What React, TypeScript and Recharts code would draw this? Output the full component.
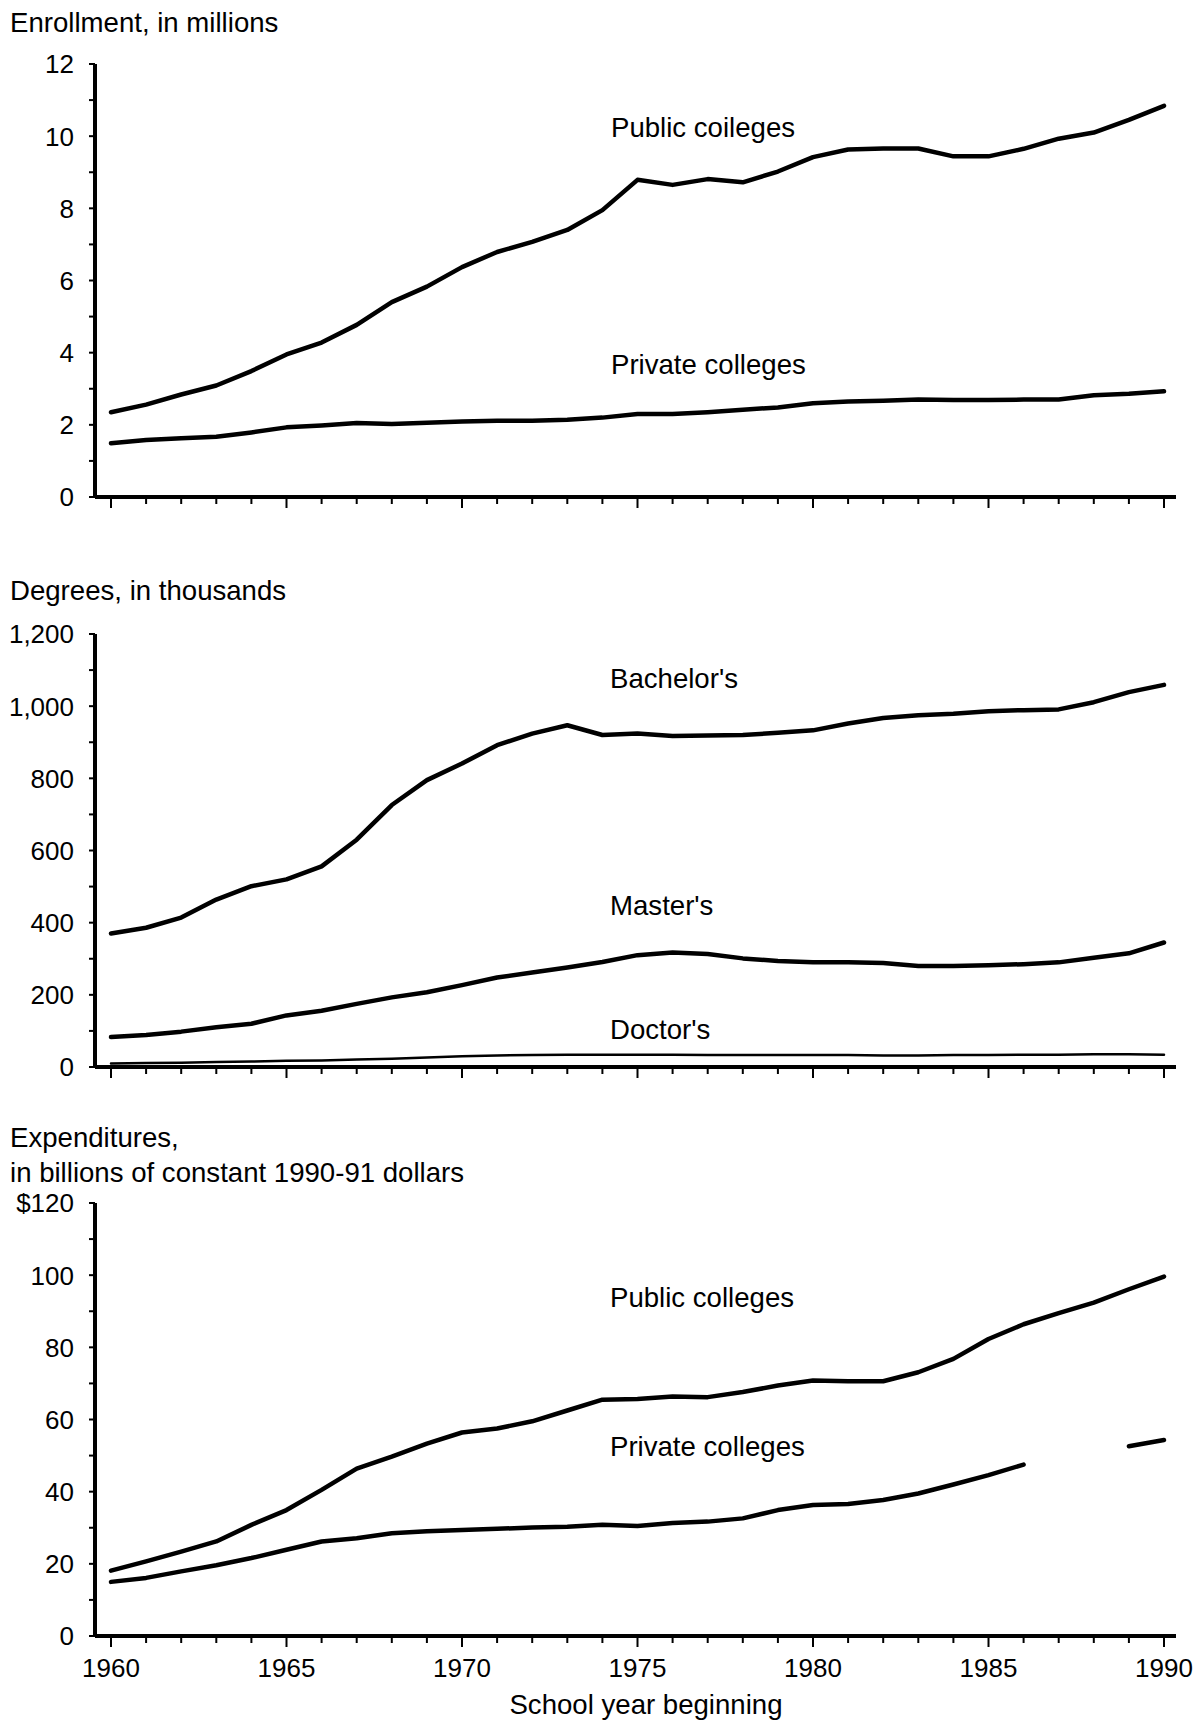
import { Line, LineChart, XAxis, YAxis } from "recharts";

const FONT = '"Liberation Sans", Arial, Helvetica, sans-serif';

const years = [
  1960, 1961, 1962, 1963, 1964, 1965, 1966, 1967, 1968, 1969, 1970, 1971, 1972, 1973, 1974, 1975,
  1976, 1977, 1978, 1979, 1980, 1981, 1982, 1983, 1984, 1985, 1986, 1987, 1988, 1989, 1990,
];

// Enrollment, millions
const enrollPublic = [
  2.35, 2.56, 2.84, 3.09, 3.49, 3.95, 4.28, 4.77, 5.4, 5.83, 6.37, 6.79, 7.07, 7.4, 7.95, 8.79,
  8.65, 8.81, 8.72, 9.02, 9.42, 9.63, 9.66, 9.66, 9.44, 9.44, 9.65, 9.93, 10.1, 10.45, 10.84,
];
const enrollPrivate = [
  1.49, 1.58, 1.63, 1.67, 1.79, 1.93, 1.98, 2.05, 2.02, 2.06, 2.09, 2.11, 2.11, 2.14, 2.2, 2.3,
  2.3, 2.35, 2.42, 2.48, 2.6, 2.65, 2.67, 2.7, 2.69, 2.69, 2.7, 2.7, 2.82, 2.86, 2.93,
];

// Degrees, thousands
const bachelors = [
  370, 386, 414, 464, 501, 520, 556, 630, 726, 795, 841, 892, 924, 947, 920, 924, 917, 919, 920,
  926, 933, 952, 967, 975, 979, 986, 989, 991, 1011, 1039, 1059,
];
const masters = [
  83, 89, 98, 110, 120, 143, 156, 175, 193, 207, 227, 248, 262, 276, 291, 310, 317, 313, 301, 294,
  290, 290, 288, 280, 280, 282, 285, 290, 303, 315, 345,
];
const doctors = [
  10, 11, 12, 14, 15, 17, 18, 21, 23, 26, 30, 32, 33, 34, 34, 34, 34, 33, 33, 33, 33, 33, 32, 32,
  33, 33, 34, 34, 35, 35, 34,
];

// Expenditures, billions of constant 1990-91 dollars
const spendPublic = [
  18.1, 20.7, 23.4, 26.2, 30.8, 34.9, 40.5, 46.4, 49.7, 53.3, 56.4, 57.5, 59.5, 62.5, 65.5, 65.7,
  66.4, 66.2, 67.6, 69.4, 70.8, 70.6, 70.6, 73.1, 76.8, 82.3, 86.4, 89.5, 92.4, 96.1, 99.6,
];
const spendPrivate = [
  15.0, 16.1, 17.9, 19.6, 21.6, 23.9, 26.2, 27.1, 28.5, 29.0, 29.4, 29.7, 30.1, 30.3, 30.8, 30.5,
  31.3, 31.7, 32.6, 34.9, 36.3, 36.6, 37.7, 39.5, 42.0, 44.6, 47.5, null, null, 52.6, 54.3,
];

const enrollTicks = [0, 1, 2, 3, 4, 5, 6, 7, 8, 9, 10, 11, 12];
const enrollLabels = ["0", "2", "4", "6", "8", "10", "12"];
const degreeTicks = [0, 100, 200, 300, 400, 500, 600, 700, 800, 900, 1000, 1100, 1200];
const degreeLabels = ["0", "200", "400", "600", "800", "1,000", "1,200"];
const spendTicks = [0, 10, 20, 30, 40, 50, 60, 70, 80, 90, 100, 110, 120];
const spendLabels = ["0", "20", "40", "60", "80", "100", "$120"];

const enrollData = years.map((year, i) => ({ year, pub: enrollPublic[i], priv: enrollPrivate[i] }));
const degreeData = years.map((year, i) => ({
  year,
  bach: bachelors[i],
  mast: masters[i],
  doct: doctors[i],
}));
const spendData = years.map((year, i) => ({ year, pub: spendPublic[i], priv: spendPrivate[i] }));

const PLOT_H = 433;
const TOP_PAD = 20;

function XTick(props: any) {
  const { x, y, payload, showLabels } = props;
  const v = payload.value;
  const major = v % 5 === 0;
  return (
    <g>
      <line x1={x} x2={x} y1={y} y2={y + (major ? 11 : 7)} stroke="#000" strokeWidth={2} />
      {showLabels && major && (
        <text x={x} y={y + 41} textAnchor="middle" fontSize={26} fontFamily={FONT} fill="#000">
          {v}
        </text>
      )}
    </g>
  );
}

function YTick(props: any) {
  const { x, y, payload, ticks, labels } = props;
  const idx = ticks.indexOf(payload.value);
  const label = idx % 2 === 0 ? labels[idx / 2] : null;
  return (
    <g>
      <line x1={x - 6} x2={x} y1={y} y2={y} stroke="#000" strokeWidth={2} />
      {label && (
        <text x={x - 21} y={y} dy="0.36em" textAnchor="end" fontSize={26} fontFamily={FONT} fill="#000">
          {label}
        </text>
      )}
    </g>
  );
}

type PanelProps = {
  top: number;
  data: any[];
  ticks: number[];
  labels: string[];
  keys: { key: string; width: number }[];
  showXLabels?: boolean;
};

function Panel({ top, data, ticks, labels, keys, showXLabels }: PanelProps) {
  const xH = showXLabels ? 60 : 30;
  return (
    <div style={{ position: "absolute", left: 0, top: top - TOP_PAD }}>
      <LineChart
        width={1196}
        height={TOP_PAD + PLOT_H + xH}
        data={data}
        margin={{ top: TOP_PAD, right: 20, bottom: 0, left: 35 }}
      >
        <XAxis
          dataKey="year"
          type="number"
          domain={[1960, 1990]}
          ticks={years}
          interval={0}
          height={xH}
          padding={{ left: 16, right: 12 }}
          axisLine={{ stroke: "#000", strokeWidth: 4 }}
          tickLine={false}
          tickSize={0}
          tickMargin={0}
          tick={(p: any) => <XTick {...p} showLabels={showXLabels} />}
        />
        <YAxis
          type="number"
          width={60}
          domain={[ticks[0], ticks[ticks.length - 1]]}
          ticks={ticks}
          interval={0}
          axisLine={{ stroke: "#000", strokeWidth: 4 }}
          tickLine={false}
          tickSize={0}
          tickMargin={0}
          tick={(p: any) => <YTick {...p} ticks={ticks} labels={labels} />}
        />
        {keys.map((k) => (
          <Line
            key={k.key}
            type="linear"
            dataKey={k.key}
            stroke="#000"
            strokeWidth={k.width}
            strokeLinejoin="round"
            strokeLinecap="round"
            dot={false}
            isAnimationActive={false}
          />
        ))}
      </LineChart>
    </div>
  );
}

const textStyle = { fontFamily: FONT, fontSize: 27.6, fill: "#000" };

export default function App() {
  return (
    <div
      style={{
        position: "absolute",
        left: 0,
        top: 0,
        width: 1196,
        height: 1726,
        background: "#fff",
        overflow: "hidden",
      }}
    >
      <Panel
        top={64}
        data={enrollData}
        ticks={enrollTicks}
        labels={enrollLabels}
        keys={[
          { key: "pub", width: 4.5 },
          { key: "priv", width: 4.5 },
        ]}
      />
      <Panel
        top={634}
        data={degreeData}
        ticks={degreeTicks}
        labels={degreeLabels}
        keys={[
          { key: "bach", width: 4.5 },
          { key: "mast", width: 4.5 },
          { key: "doct", width: 2.5 },
        ]}
      />
      <Panel
        top={1203}
        data={spendData}
        ticks={spendTicks}
        labels={spendLabels}
        keys={[
          { key: "pub", width: 4.5 },
          { key: "priv", width: 4.5 },
        ]}
        showXLabels
      />
      <svg
        width={1196}
        height={1726}
        style={{ position: "absolute", left: 0, top: 0, pointerEvents: "none" }}
      >
        <text x={10} y={32} {...textStyle}>Enrollment, in millions</text>
        <text x={611} y={137} {...textStyle}>Public coileges</text>
        <text x={611} y={374} {...textStyle}>Private colleges</text>

        <text x={10} y={600} {...textStyle}>Degrees, in thousands</text>
        <text x={610} y={688} {...textStyle}>Bachelor's</text>
        <text x={610} y={915} {...textStyle}>Master's</text>
        <text x={610} y={1039} {...textStyle}>Doctor's</text>

        <text x={10} y={1147} {...textStyle}>Expenditures,</text>
        <text x={10} y={1182} {...textStyle}>in billions of constant 1990-91 dollars</text>
        <text x={610} y={1307} {...textStyle}>Public colleges</text>
        <text x={610} y={1456} {...textStyle}>Private colleges</text>

        <text x={646} y={1714} textAnchor="middle" {...textStyle}>School year beginning</text>
      </svg>
    </div>
  );
}
